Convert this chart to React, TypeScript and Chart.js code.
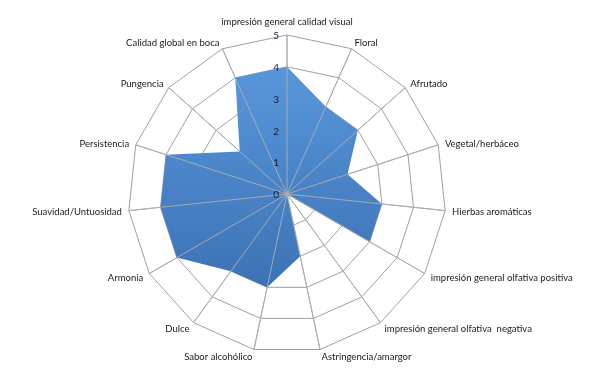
import React, { useEffect, useRef } from "react";
import { Chart, registerables } from "chart.js";

Chart.register(...registerables);

const categories = [
  "impresión general calidad visual",
  "Floral",
  "Afrutado",
  "Vegetal/herbáceo",
  "Hierbas aromáticas",
  "impresión general olfativa positiva",
  "impresión general olfativa  negativa",
  "Astringencia/amargor",
  "Sabor alcohólico",
  "Dulce",
  "Armonia",
  "Suavidad/Untuosidad",
  "Persistencia",
  "Pungencia",
  "Calidad global en boca",
];

const values = [4, 3, 3, 2, 3, 3, 0, 2, 3, 3, 4, 4, 4, 2, 4];

const tickLabels = ["0", "1", "2", "3", "4", "5"];

const FONT = "Lato, 'Open Sans', sans-serif";

export default function App() {
  const ref = useRef<HTMLCanvasElement | null>(null);

  useEffect(() => {
    if (!ref.current) return;

    const overlay = {
      id: "overlay",
      afterDatasetsDraw(chart: any) {
        const scale = chart.scales.r;
        const ctx = chart.ctx;
        ctx.save();
        ctx.strokeStyle = "rgba(175,175,175,0.9)";
        ctx.lineWidth = 1;
        for (let i = 0; i < categories.length; i++) {
          const p = scale.getPointPositionForValue(i, scale.max);
          ctx.beginPath();
          ctx.moveTo(scale.xCenter, scale.yCenter);
          ctx.lineTo(p.x, p.y);
          ctx.stroke();
        }
        // tick labels
        ctx.fillStyle = "#1a1a3a";
        ctx.font = "10px " + FONT;
        ctx.textAlign = "right";
        ctx.textBaseline = "middle";
        tickLabels.forEach((t) => {
          const v = Number(t);
          const y = scale.yCenter - scale.getDistanceFromCenterForValue(v);
          ctx.fillText(t, scale.xCenter - 8, y + 1);
        });
        // category labels
        ctx.fillStyle = "#1a1a1a";
        ctx.font = "9.5px " + FONT;
        const n = categories.length;
        const R = scale.getDistanceFromCenterForValue(scale.max);
        categories.forEach((lab, i) => {
          const a = (i * 2 * Math.PI) / n;
          const s = Math.sin(a);
          const c = Math.cos(a);
          const x = scale.xCenter + (R + 7) * s;
          let y = scale.yCenter - (R + 7) * c + 1;
          if (Math.abs(s) < 0.01) {
            ctx.textAlign = "center";
            y -= 7;
          } else {
            ctx.textAlign = s > 0 ? "left" : "right";
          }
          ctx.textBaseline = "middle";
          ctx.fillText(lab, x, y);
        });
        ctx.restore();
      },
    };

    const chart = new Chart(ref.current, {
      type: "radar",
      data: {
        labels: categories,
        datasets: [
          {
            data: values,
            fill: true,
            backgroundColor: (c: any) => {
              const area = c.chart.chartArea;
              if (!area) return "rgb(74,134,205)";
              const g = c.chart.ctx.createLinearGradient(0, area.top, 0, area.bottom);
              g.addColorStop(0, "rgb(92,155,224)");
              g.addColorStop(1, "rgb(52,104,170)");
              return g;
            },
            borderWidth: 0,
            borderColor: "rgba(0,0,0,0)",
            pointRadius: 0,
            pointHoverRadius: 0,
          },
        ],
      },
      plugins: [overlay],
      options: {
        animation: false,
        responsive: false,
        maintainAspectRatio: false,
        layout: { padding: { top: 35, bottom: 25, left: 128, right: 147 } },
        plugins: {
          legend: { display: false },
          tooltip: { enabled: false },
        },
        scales: {
          r: {
            min: 0,
            max: 5,
            ticks: { display: false, stepSize: 1 },
            grid: { color: "#a0a0a0", lineWidth: 1, circular: false },
            angleLines: { color: "#a0a0a0", lineWidth: 1 },
            pointLabels: { display: false },
          },
        },
      },
    });
    return () => chart.destroy();
  }, []);

  return (
    <div style={{ position: "absolute", left: 0, top: 0, width: 593, height: 378, background: "#fff" }}>
      <canvas ref={ref} width={593} height={378} style={{ display: "block" }} />
    </div>
  );
}
